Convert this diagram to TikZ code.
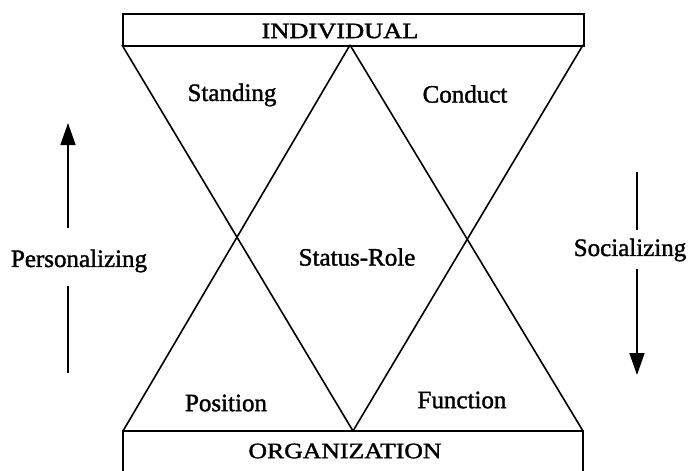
\documentclass[tikz,border=0pt]{standalone}
\usepackage{fontspec}
\usepackage{graphicx}
\setmainfont[FakeBold=1.5]{Liberation Serif}
\usetikzlibrary{arrows.meta}
\begin{document}
\begin{tikzpicture}[x=1pt,y=-1pt,
  ln/.style={line width=1.6pt,line join=miter},
  lab/.style={font=\fontsize{25}{28}\selectfont,inner sep=0pt},
  captext/.style={font=\fontsize{22}{24}\selectfont,inner sep=0pt},
  arr/.style={line width=1.6pt,-{Triangle[width=15pt,length=22pt]}}]
\useasboundingbox (0,0) rectangle (688,471);
% top box
\node[draw,ln,minimum width=461pt,minimum height=32pt,anchor=north west,inner sep=0pt] (ind) at (122,13) {};
\node[captext] (indt) at (340,31) {\scalebox{1.2}[1]{INDIVIDUAL}};
% bottom box (open at the foot)
\coordinate (bl) at (123,431);
\coordinate (br) at (583,431);
\coordinate (blf) at (123,474);
\coordinate (brf) at (583,474);
\draw[ln] (blf) -- (bl) -- (br) -- (brf);
\node[captext] (org) at (345,451) {\scalebox{1.17}[1]{ORGANIZATION}};
% vertices
\coordinate (tl) at (122,45);
\coordinate (tm) at (350,45);
\coordinate (tr) at (583,45);
\coordinate (bm) at (353,431);
\draw[ln] (tl) -- (bm);
\draw[ln] (tm) -- (bl);
\draw[ln] (tm) -- (br);
\draw[ln] (tr) -- (bm);
% labels
\node[lab] (standing) at (232,95) {Standing};
\node[lab] (conduct) at (465,94) {Conduct};
\node[lab] (status) at (357,257) {Status-Role};
\node[lab] (position) at (226,403) {Position};
\node[lab] (function) at (462,400) {Function};
\node[lab] (pers) at (79,261) {Personalizing};
\node[lab] (soc) at (630,250) {Socializing};
% arrows
\coordinate (pa1) at (68,228);
\coordinate (pa2) at (68,123);
\coordinate (pb1) at (68,286);
\coordinate (pb2) at (68,373);
\draw[line width=1.6pt] (pb1) -- (pb2);
\draw[arr] (pa1) -- (pa2);
\coordinate (sa1) at (637,172);
\coordinate (sa2) at (637,230);
\coordinate (sb1) at (637,269);
\coordinate (sb2) at (637,375);
\draw[line width=1.6pt] (sa1) -- (sa2);
\draw[arr] (sb1) -- (sb2);
\end{tikzpicture}
\end{document}
